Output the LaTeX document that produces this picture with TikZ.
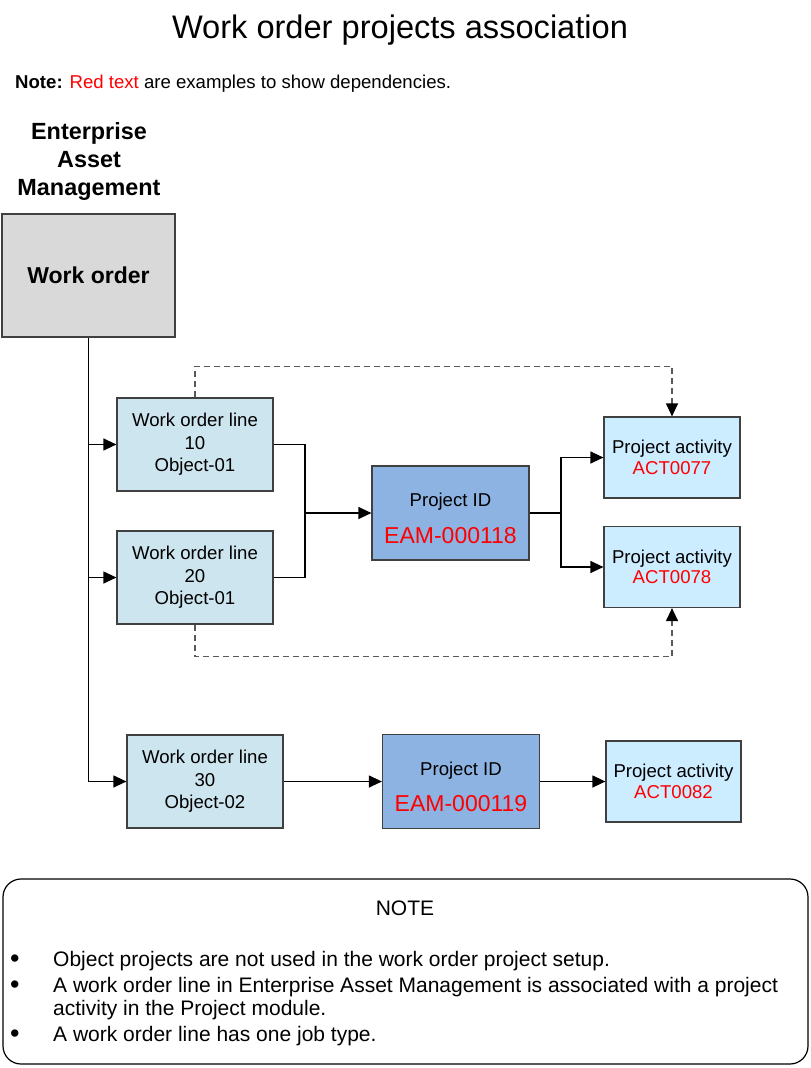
\documentclass[tikz,border=0pt]{standalone}
\usepackage{fontspec}
\setmainfont{Liberation Sans}
\usetikzlibrary{arrows.meta}
\newcommand\fsz[2]{\fontsize{#1}{#2}\selectfont}
\definecolor{wofill}{HTML}{D9D9D9}
\definecolor{wolfill}{HTML}{CDE5EE}
\definecolor{pidfill}{HTML}{8DB3E2}
\definecolor{pafill}{HTML}{CCECFF}
\definecolor{boxline}{HTML}{404040}
\definecolor{dashgray}{HTML}{595959}
\definecolor{redtxt}{HTML}{FF0000}
\tikzset{
  box/.style={draw=boxline, line width=1.2pt, align=center, inner sep=0pt},
  wobox/.style={box, fill=wofill, minimum width=173pt, minimum height=123pt, font=\bfseries\fsz{23}{28}},
  wolbox/.style={box, fill=wolfill, minimum width=156pt, minimum height=93pt, font=\fsz{18.6}{22.5}},
  pidbox/.style={box, fill=pidfill, minimum width=157pt, minimum height=94pt, font=\fsz{18.6}{22.5}},
  pabox/.style={box, fill=pafill, minimum width=136pt, minimum height=81pt, font=\fsz{18.6}{20.5}},
  wire/.style={draw=black, line width=1.2pt, line join=miter},
  conn/.style={wire, -{Triangle[length=13pt,width=12pt]}},
  dashconn/.style={draw=dashgray, line width=1.2pt, dash pattern=on 6pt off 4pt, -{Triangle[length=13pt,width=12pt,color=black]}},
  notetext/.style={anchor=base west, inner sep=0pt, font=\fsz{21}{25}},
  bullettext/.style={anchor=base west, inner sep=0pt, font=\fsz{27}{25}},
}
\begin{document}
\begin{tikzpicture}[x=1pt, y=-1pt]
\useasboundingbox (0,0) rectangle (811,1068);

% headings
\node[anchor=base, inner sep=0pt, font=\fsz{32.6}{38}] (title) at (400,38.7) {Work order projects association};
\node[anchor=base west, inner sep=0pt, font=\fsz{18.6}{22}] (note) at (15,88.7)
  {\textbf{Note:} \textcolor{redtxt}{Red text} are examples to show dependencies.};
\node[align=center, inner sep=0pt, font=\bfseries\fsz{23.4}{28}] (eam) at (89,161.5) {Enterprise\\Asset\\Management};

% boxes
\node[wobox] (wo) at (88.5,275.5) {Work order};
\node[wolbox] (wol10) at (195,444.5) {Work order line\\10\\Object-01};
\node[wolbox] (wol20) at (195,577.5) {Work order line\\20\\Object-01};
\node[pidbox] (pid1) at (450.5,513) {\rule{0pt}{24pt}Project ID\\[14pt]{\fsz{23}{28}\color{redtxt}EAM-000118}};
\node[pabox] (pa1) at (672,457.5) {Project activity\\\textcolor{redtxt}{ACT0077}};
\node[pabox] (pa2) at (672,567) {Project activity\\\textcolor{redtxt}{ACT0078}};
\node[wolbox] (wol30) at (205,781.5) {Work order line\\30\\Object-02};
\node[pidbox] (pid2) at (461,781.5) {\rule{0pt}{24pt}Project ID\\[14pt]{\fsz{23}{28}\color{redtxt}EAM-000119}};
\node[pabox, minimum width=135pt] (pa3) at (673.5,781.5) {Project activity\\\textcolor{redtxt}{ACT0082}};

% trunk and branches
\draw[wire] (wo.south) -- (wo.south |- wol30.west);
\draw[conn] (wo.south |- wol10.west) -- (wol10.west);
\draw[conn] (wo.south |- wol20.west) -- (wol20.west);
\draw[conn] (wo.south |- wol30.west) -- (wol30.west);

% merge to project 1
\coordinate (j1) at (305,513);
\draw[wire] (wol10.east) -| (j1);
\draw[wire] (wol20.east) -| (j1);
\draw[conn] (j1) -- (pid1.west);

% split to activities
\coordinate (j2) at (561,513);
\draw[wire] (pid1.east) -- (j2);
\draw[conn] (j2) |- (pa1.west);
\draw[conn] (j2) |- (pa2.west);

% dashed dependencies
\draw[dashconn] (wol10.north) -- ++(0,-31) -| (pa1.north);
\draw[dashconn] (wol20.south) -- ++(0,32) -| (pa2.south);

% row 3
\draw[conn] (wol30.east) -- (pid2.west);
\draw[conn] (pid2.east) -- (pa3.west);

% note box
\node[draw=black, line width=1.2pt, rounded corners=18pt, minimum width=805pt, minimum height=185pt, inner sep=0pt] (notebox) at (405.5,971.5) {};
\node[anchor=base, inner sep=0pt, font=\fsz{21}{25}] (notehead) at (405,915.5) {NOTE};
\node[bullettext] (b1) at (10,967.5) {•};
\node[notetext] (t1) at (53,966.5) {Object projects are not used in the work order project setup.};
\node[bullettext] (b2) at (10,993.5) {•};
\node[notetext] (t2) at (53,992.5) {A work order line in Enterprise Asset Management is associated with a project};
\node[notetext] (t2b) at (53,1015.5) {activity in the Project module.};
\node[bullettext] (b3) at (10,1042.5) {•};
\node[notetext] (t3) at (53,1041.5) {A work order line has one job type.};
\end{tikzpicture}
\end{document}
